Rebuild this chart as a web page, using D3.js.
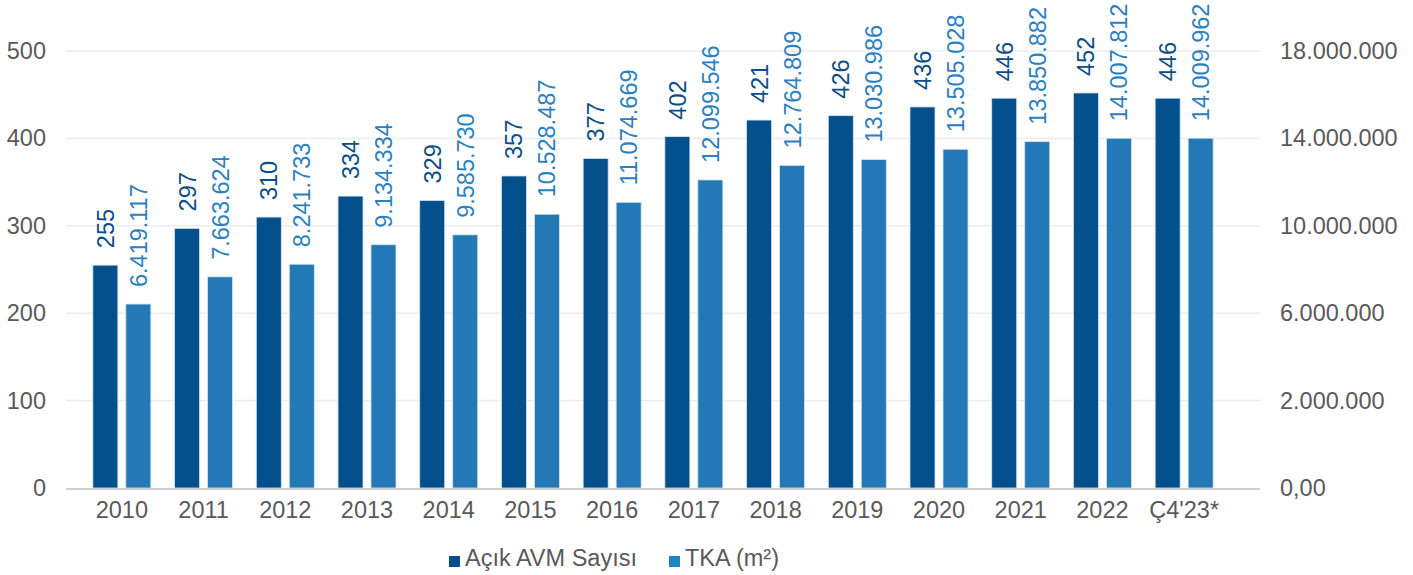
<!DOCTYPE html>
<html>
<head>
<meta charset="utf-8">
<script src="https://cdn.jsdelivr.net/npm/d3@7"></script>
<style>
  html, body { margin: 0; padding: 0; background: #fff; }
  svg { display: block; font-family: "Liberation Sans", Arial, Helvetica, sans-serif; }
</style>
</head>
<body>
<svg id="chart" width="1413" height="575"></svg>
<script>
// Shopping-mall statistics: number of open malls and gross leasable area
const categories = ["2010", "2011", "2012", "2013", "2014", "2015", "2016",
                    "2017", "2018", "2019", "2020", "2021", "2022", "Ç4'23*"];
const avmCount = [255, 297, 310, 334, 329, 357, 377, 402, 421, 426, 436, 446, 452, 446];
const tkaArea = [6419117, 7663624, 8241733, 9134334, 9585730, 10528487, 11074669,
                 12099546, 12764809, 13030986, 13505028, 13850882, 14007812, 14009962];
const leftTicks = [0, 100, 200, 300, 400, 500];
const rightTicks = [-2000000, 2000000, 6000000, 10000000, 14000000, 18000000];
const rightTickLabels = ["0,00", "2.000.000", "6.000.000", "10.000.000", "14.000.000", "18.000.000"];
const seriesNames = ["Açık AVM Sayısı", "TKA (m²)"];

const colors = { dark: "#03508c", light: "#2379b5" };
const labelColors = { dark: "#0b4d88", light: "#2a80c1" };
const tickColor = "#595959";
const fontSize = 23.5;

const svg = d3.select("#chart");
const plot = { left: 66, right: 1260, top: 51, bottom: 488 };

const x = d3.scaleBand().domain(categories).range([81, 1225]).padding(0);
const inner = d3.scaleBand().domain(["dark", "light"])
  .range([x.bandwidth() / 2 - 29, x.bandwidth() / 2 + 29]).paddingInner(0.242);
const yL = d3.scaleLinear().domain([0, 500]).range([plot.bottom, plot.top]);
const yR = d3.scaleLinear().domain([-2000000, 18000000]).range([plot.bottom, plot.top]);

// Horizontal gridlines
svg.append("g").selectAll("line")
  .data(leftTicks.filter(d => d > 0))
  .join("line")
  .attr("x1", plot.left).attr("x2", plot.right)
  .attr("y1", d => yL(d)).attr("y2", d => yL(d))
  .attr("stroke", "#ececec").attr("stroke-width", 1.5);

// Left axis
const leftAxis = svg.append("g")
  .attr("transform", `translate(46,0)`)
  .call(d3.axisLeft(yL).tickValues(leftTicks).tickSize(0).tickPadding(0));
leftAxis.select(".domain").remove();
leftAxis.selectAll("text")
  .attr("fill", tickColor).attr("font-size", fontSize)
  .attr("font-family", "Liberation Sans, Arial, sans-serif");

// Right axis
const rightAxis = svg.append("g")
  .attr("transform", `translate(1280,0)`)
  .call(d3.axisRight(yR).tickValues(rightTicks)
    .tickFormat((d, i) => rightTickLabels[i]).tickSize(0).tickPadding(0));
rightAxis.select(".domain").remove();
rightAxis.selectAll("text")
  .attr("fill", tickColor).attr("font-size", fontSize)
  .attr("font-family", "Liberation Sans, Arial, sans-serif");

// Bars
const groups = svg.append("g").selectAll("g")
  .data(categories.map((c, i) => ({ cat: c, dark: avmCount[i], light: tkaArea[i] })))
  .join("g")
  .attr("transform", d => `translate(${x(d.cat)},0)`);

groups.append("rect")
  .attr("x", inner("dark")).attr("width", inner.bandwidth())
  .attr("y", d => yL(d.dark)).attr("height", d => yL(0) - yL(d.dark))
  .attr("fill", colors.dark).attr("stroke", "#d6e4f0").attr("stroke-width", 0.8);

groups.append("rect")
  .attr("x", inner("light")).attr("width", inner.bandwidth())
  .attr("y", d => yR(d.light)).attr("height", d => yR(-2000000) - yR(d.light))
  .attr("fill", colors.light).attr("stroke", "#d6e4f0").attr("stroke-width", 0.8);

// Value labels, rotated above each bar
const fmtCount = d3.format("d");
const fmtArea = v => d3.format(",")(v).replace(/,/g, ".");

groups.append("text")
  .attr("transform", d => `translate(${inner("dark") + inner.bandwidth() / 2},${yL(d.dark) - 17}) rotate(-90)`)
  .attr("dy", "0.36em")
  .attr("fill", labelColors.dark).attr("font-size", fontSize)
  .text(d => fmtCount(d.dark));

groups.append("text")
  .attr("transform", d => `translate(${inner("light") + inner.bandwidth() / 2},${yR(d.light) - 17}) rotate(-90)`)
  .attr("dy", "0.36em")
  .attr("fill", labelColors.light).attr("font-size", fontSize)
  .text(d => fmtArea(d.light));

// Baseline
svg.append("line")
  .attr("x1", plot.left).attr("x2", plot.right)
  .attr("y1", plot.bottom + 1).attr("y2", plot.bottom + 1)
  .attr("stroke", "#cfcfcf").attr("stroke-width", 2);

// Category axis
const bottomAxis = svg.append("g")
  .attr("transform", `translate(0,${plot.bottom})`)
  .call(d3.axisBottom(x).tickSize(0).tickPadding(13));
bottomAxis.select(".domain").remove();
bottomAxis.selectAll("text")
  .attr("fill", tickColor).attr("font-size", fontSize)
  .attr("font-family", "Liberation Sans, Arial, sans-serif");

// Legend
const legend = svg.append("g").attr("transform", "translate(449,556)");
const legendItems = [
  { name: seriesNames[0], color: colors.dark, x: 0 },
  { name: seriesNames[1], color: "#1f84bf", x: 220 }
];
const li = legend.selectAll("g").data(legendItems).join("g")
  .attr("transform", d => `translate(${d.x},0)`);
li.append("rect").attr("width", 11).attr("height", 11).attr("fill", d => d.color);
li.append("text").attr("x", 16).attr("y", 10)
  .attr("fill", tickColor).attr("font-size", fontSize)
  .text(d => d.name);
</script>
</body>
</html>
